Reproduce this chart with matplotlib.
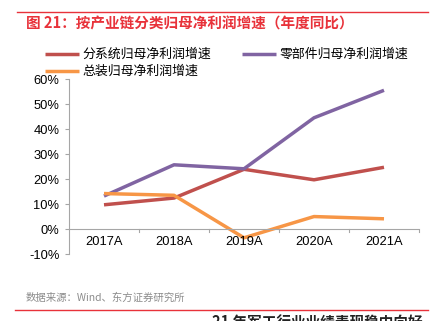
import matplotlib
matplotlib.use("Agg")
import matplotlib.pyplot as plt
from matplotlib.lines import Line2D

plt.rcParams['font.family'] = ['Noto Sans CJK SC', 'DejaVu Sans']

years = ["2017A", "2018A", "2019A", "2020A", "2021A"]
system_growth = [9.8, 12.5, 24.0, 19.8, 24.8]
parts_growth = [13.3, 25.8, 24.2, 44.6, 55.6]
assembly_growth = [14.3, 13.6, -3.4, 5.1, 4.2]

series_names = ["分系统归母净利润增速", "零部件归母净利润增速", "总装归母净利润增速"]
colors = ["#C0504D", "#8064A2", "#F79646"]

W, H = 442, 321
fig = plt.figure(figsize=(W / 100, H / 100), dpi=100)

def fx(px):
    return px / W

def fy(py):
    return 1 - py / H

# red rules above the title and under the source note
fig.add_artist(Line2D([fx(17), fx(428)], [fy(12), fy(12)], color="#E8323A", lw=1.0))
fig.add_artist(Line2D([fx(15), fx(428)], [fy(310), fy(310)], color="#E8323A", lw=1.0))

fig.text(fx(26), fy(24), "图 21：按产业链分类归母净利润增速（年度同比）",
         color="#E8323A", fontsize=10.5, fontweight="bold", va="center")
fig.text(fx(26), fy(298), "数据来源：Wind、东方证券研究所",
         color="#8C8C8C", fontsize=7.5, va="center")
fig.text(fx(212), fy(315), "21 年军工行业业绩表现稳中向好",
         color="#222222", fontsize=10.5, fontweight="bold", va="top")

ax = fig.add_axes([fx(69), fy(254.3), fx(419) - fx(69), fy(79.3) - fy(254.3)])
x = range(len(years))
lines = []
for vals, c in zip([system_growth, parts_growth, assembly_growth], colors):
    ln, = ax.plot(x, vals, color=c, lw=2.5, solid_capstyle="butt")
    lines.append(ln)

ax.set_xlim(-0.5, len(years) - 0.5)
ax.set_ylim(-10, 60)
ax.set_yticks(range(-10, 61, 10))
ax.set_yticklabels([f"{v}%" for v in range(-10, 61, 10)], fontsize=9.3, family="Liberation Sans")
ax.tick_params(axis="y", length=3, color="#A6A6A6", width=0.8, pad=4)

# category labels sit below the 0% line; tick marks mark the boundaries
ax.set_xticks([])
for i, lab in enumerate(years):
    ax.text(i, -2.6, lab, ha="center", va="top", fontsize=9.3, family="Liberation Sans")
for b in [i + 0.5 for i in range(len(years))]:
    ax.plot([b, b], [0, -0.9], color="#A6A6A6", lw=0.8, clip_on=False)
ax.axhline(0, color="#A6A6A6", lw=0.8)

for s in ["top", "right", "bottom"]:
    ax.spines[s].set_visible(False)
ax.spines["left"].set_color("#A6A6A6")
ax.spines["left"].set_linewidth(0.8)

# legend fills column-wise, so order entries to read red, purple / orange
order = [0, 2, 1]
fig.legend([lines[i] for i in order], [series_names[i] for i in order],
           loc="upper left", bbox_to_anchor=(fx(40), fy(43)), ncol=2,
           frameon=False, fontsize=9.3, handlelength=2.6, handletextpad=0.3,
           columnspacing=2.4, labelspacing=0.3, borderaxespad=0)

fig.savefig("out.png", dpi=100)
